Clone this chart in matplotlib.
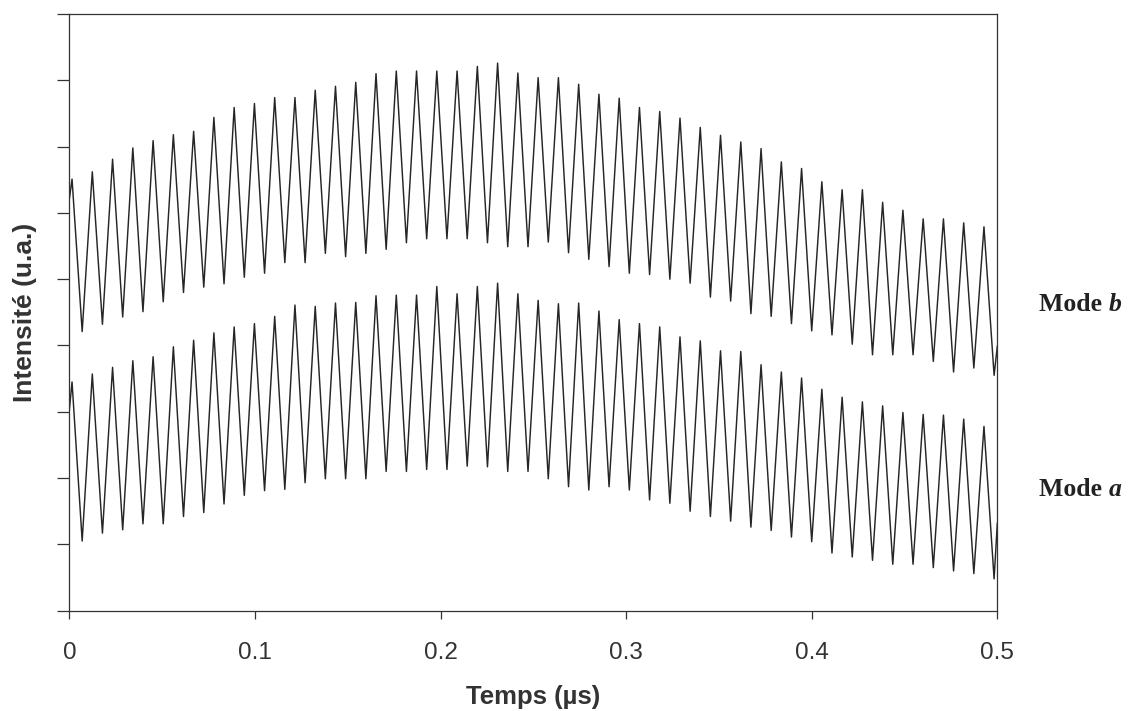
import numpy as np
import matplotlib.pyplot as plt

# time base (µs)
t_first_peak = 0.00145
period = 0.010919
t_start, t_end = 0.0, 0.5

# Mode b : value at t=0, crest / trough of each cycle, value at t=0.5
mode_b_start = 6.21
mode_b_peaks = [6.51, 6.62, 6.81, 6.98, 7.09, 7.18, 7.23, 7.44, 7.59, 7.65,
                7.74, 7.74, 7.85, 7.91, 7.97, 8.10, 8.14, 8.14, 8.14, 8.14,
                8.21, 8.26, 8.11, 8.04, 8.04, 7.94, 7.79, 7.73, 7.59, 7.53,
                7.43, 7.29, 7.17, 7.07, 6.97, 6.77, 6.67, 6.47, 6.35, 6.35,
                6.16, 6.04, 5.91, 5.91, 5.85, 5.79]
mode_b_troughs = [4.21, 4.32, 4.43, 4.51, 4.66, 4.80, 4.88, 4.93, 5.03, 5.09,
                  5.25, 5.25, 5.39, 5.34, 5.39, 5.45, 5.55, 5.61, 5.61, 5.61,
                  5.55, 5.49, 5.49, 5.56, 5.40, 5.30, 5.19, 5.09, 5.07, 5.00,
                  4.94, 4.73, 4.67, 4.48, 4.44, 4.33, 4.22, 4.16, 4.02, 3.86,
                  3.86, 3.86, 3.76, 3.60, 3.66, 3.55]
mode_b_end = 3.99

# Mode a
mode_a_start = 3.03
mode_a_peaks = [3.45, 3.57, 3.67, 3.77, 3.83, 3.98, 4.08, 4.19, 4.28, 4.33,
                4.44, 4.61, 4.59, 4.64, 4.65, 4.75, 4.76, 4.76, 4.89, 4.78,
                4.89, 4.94, 4.78, 4.68, 4.63, 4.64, 4.52, 4.39, 4.33, 4.28,
                4.13, 4.07, 3.92, 3.91, 3.71, 3.60, 3.51, 3.34, 3.22, 3.15,
                3.09, 2.99, 2.96, 2.95, 2.89, 2.78]
mode_a_troughs = [1.05, 1.17, 1.22, 1.31, 1.31, 1.42, 1.48, 1.61, 1.74, 1.81,
                  1.83, 1.93, 1.99, 1.99, 1.99, 2.10, 2.10, 2.13, 2.13, 2.18,
                  2.17, 2.10, 2.10, 1.99, 1.87, 1.82, 1.87, 1.82, 1.67, 1.62,
                  1.50, 1.42, 1.35, 1.26, 1.21, 1.11, 1.04, 0.87, 0.81, 0.76,
                  0.70, 0.70, 0.65, 0.60, 0.56, 0.48]
mode_a_end = 1.32

x_ticks = [0, 0.1, 0.2, 0.3, 0.4, 0.5]
x_ticklabels = ["0", "0.1", "0.2", "0.3", "0.4", "0.5"]


def trace(start, peaks, troughs, end):
    n = len(peaks)
    tp = t_first_peak + period * np.arange(n)
    tt = tp + period / 2
    t = np.concatenate([[t_start], np.column_stack([tp, tt]).ravel(), [t_end]])
    y = np.concatenate([[start], np.column_stack([peaks, troughs]).ravel(), [end]])
    return t, y


fig = plt.figure(figsize=(11.35, 7.11), dpi=100)
ax = fig.add_axes([0.0611, 0.1411, 0.8176, 0.8392])

for start, pk, tr, end in [(mode_b_start, mode_b_peaks, mode_b_troughs, mode_b_end),
                           (mode_a_start, mode_a_peaks, mode_a_troughs, mode_a_end)]:
    t, y = trace(start, pk, tr, end)
    ax.plot(t, y, color="#262626", lw=1.05, solid_joinstyle="round")

ax.set_xlim(0, 0.5)
ax.set_ylim(0, 9)
ax.set_xticks(x_ticks)
ax.set_xticklabels(x_ticklabels, fontfamily="Liberation Sans")
ax.set_yticks(range(10))
ax.set_yticklabels([])

for s in ax.spines.values():
    s.set_color("#333333")
    s.set_linewidth(0.9)
ax.tick_params(axis="x", direction="out", length=5.8, width=0.9, color="#333333",
               pad=16.5, labelsize=17.5, labelcolor="#333333")
ax.tick_params(axis="y", direction="out", length=8.6, width=0.9, color="#333333")

ax.set_xlabel("Temps (µs)", fontfamily="Liberation Sans", fontweight="bold",
              fontsize=18.5, color="#333333")
ax.xaxis.set_label_coords(0.5, -0.125)
ax.set_ylabel("Intensité (u.a.)", fontfamily="Liberation Sans", fontweight="bold",
              fontsize=19, color="#333333")
ax.yaxis.set_label_coords(-0.035, 0.5)

for label, yb in [("b", 0.5626), ("a", 0.3024)]:
    txt = fig.text(0.9154, yb, "Mode ", fontfamily="Liberation Serif",
                   fontweight="bold", fontsize=18.5, color="#222222", va="baseline")
    ax.annotate(label, xy=(1, 0), xycoords=txt, va="bottom", ha="left",
                fontfamily="Liberation Serif", fontweight="bold", fontstyle="italic",
                fontsize=18.5, color="#222222")

fig.savefig("out.png", dpi=100)
